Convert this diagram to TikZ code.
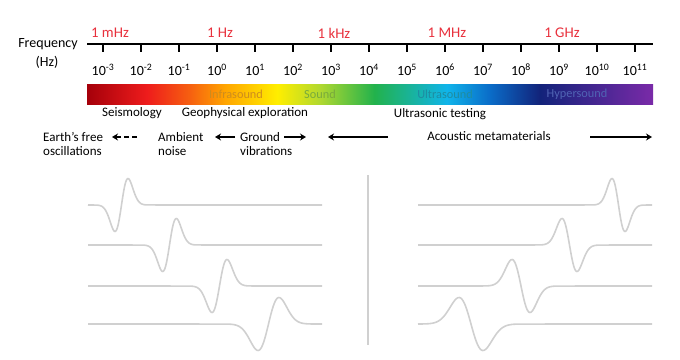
\documentclass[tikz,border=0pt]{standalone}
\usepackage{fontspec}
\setmainfont{Carlito}
\usetikzlibrary{arrows.meta}

% Colours of the spectrum bar
\definecolor{sdarkred}{RGB}{165,0,10}
\definecolor{sred}{RGB}{238,28,28}
\definecolor{sorangered}{RGB}{246,96,16}
\definecolor{sorange}{RGB}{255,165,0}
\definecolor{syellow}{RGB}{255,238,0}
\definecolor{slime}{RGB}{176,216,48}
\definecolor{sgreen}{RGB}{34,178,76}
\definecolor{scyan}{RGB}{16,180,234}
\definecolor{sblue}{RGB}{10,108,200}
\definecolor{snavy}{RGB}{18,35,122}
\definecolor{spurple}{RGB}{122,42,168}
\definecolor{freqred}{RGB}{232,48,60}
\definecolor{wavegray}{RGB}{208,208,208}

\pgfdeclarehorizontalshading{spectrum}{100bp}{%
  color(0bp)=(sdarkred); color(25bp)=(sdarkred); color(30.3bp)=(sred);
  color(34.1bp)=(sorangered); color(37.2bp)=(sorange); color(41.8bp)=(syellow);
  color(45.6bp)=(slime); color(50.4bp)=(sgreen); color(56.8bp)=(scyan);
  color(60.6bp)=(sblue); color(65bp)=(snavy); color(75bp)=(spurple);
  color(100bp)=(spurple)}

\tikzset{
  axistick/.style={line width=2.2pt},
  freqlabel/.style={text=freqred, font=\fontsize{14.8}{16}\selectfont},
  powlabel/.style={font=\fontsize{14}{16}\selectfont},
  bandlabel/.style={font=\fontsize{12.3}{14}\selectfont},
  uselabel/.style={font=\fontsize{13}{14}\selectfont, inner sep=0pt},
  bigarrow/.style={line width=1.6pt, -{Stealth[length=6pt,width=7pt]}},
  wave/.style={wavegray, line width=1.6pt, line join=round},
}

\begin{document}
\begin{tikzpicture}[x=1pt, y=-1pt]
  \useasboundingbox (0,0) rectangle (680,359);

  % Frequency axis
  \node[powlabel] (freq) at (48,44) {Frequency};
  \node[powlabel] (hz) at (47,62) {(Hz)};
  \draw[line width=1.5pt] (87,44) -- (653,44);
  \foreach \i [count=\n from -3] in {0,...,14} {
    \draw[axistick] (103+38*\i,44) -- (103+38*\i,52);
    \node[powlabel] (p\i) at (103+38*\i,70) {10\textsuperscript{\n}};
  }

  % Red frequency marks
  \node[freqlabel] (mhz) at (110,33) {1 mHz};
  \node[freqlabel] (onehz) at (220,33) {1 Hz};
  \node[freqlabel] (khz) at (334,33) {1 kHz};
  \node[freqlabel] (bigmhz) at (447,33) {1 MHz};
  \node[freqlabel] (ghz) at (562,33) {1 GHz};

  % Spectrum bar
  \shade[shading=spectrum] (87,84) rectangle (653,104);
  \node[bandlabel, text={rgb,255:red,205;green,140;blue,30}] (infra) at (236,94) {Infrasound};
  \node[bandlabel, text={rgb,255:red,120;green,170;blue,60}] (sound) at (320,94) {Sound};
  \node[bandlabel, text={rgb,255:red,30;green,140;blue,160}] (ultra) at (445,94) {Ultrasound};
  \node[bandlabel, text={rgb,255:red,80;green,100;blue,180}] (hyper) at (577,94) {Hypersound};

  % Applications
  \node[uselabel] (seis) at (132,113) {Seismology};
  \node[uselabel] (geo) at (245,113) {Geophysical exploration};
  \node[uselabel] (ultest) at (440,114) {Ultrasonic testing};

  \node[uselabel, align=left, anchor=west] (earth) at (43,144) {Earth’s free\\oscillations};
  \node[uselabel, align=left, anchor=west] (ambient) at (158,144) {Ambient\\noise};
  \node[uselabel, align=left, anchor=west] (ground) at (240,144) {Ground\\vibrations};
  \node[uselabel] (meta) at (489,136) {Acoustic metamaterials};

  % Arrow ends
  \coordinate (a1s) at (137,137); \coordinate (a1e) at (112,137);
  \coordinate (a2s) at (235,137); \coordinate (a2e) at (215,137);
  \coordinate (a3s) at (284,137); \coordinate (a3e) at (306,137);
  \coordinate (a4s) at (388,137); \coordinate (a4e) at (328,137);
  \coordinate (a5s) at (590,137); \coordinate (a5e) at (652,137);
  \draw[bigarrow, dash pattern=on 5pt off 3pt] (a1s) -- (a1e);
  \draw[bigarrow] (a2s) -- (a2e);
  \draw[bigarrow] (a3s) -- (a3e);
  \draw[bigarrow] (a4s) -- (a4e);
  \draw[bigarrow] (a5s) -- (a5e);

  % Divider
  \draw[wavegray, line width=1.6pt] (368,175) -- (368,345);

  % Left traces
  \foreach \yb/\c/\s in {205/121.5/6.5, 245/169.5/6.8, 286/219.5/7.5, 324/268.5/10.5} {
    \draw[wave] (88,\yb) -- plot[domain=\c-4*\s:\c+4*\s, samples=80]
      (\x,{\yb-43.7*((\x-\c)/\s)*exp(-0.5*((\x-\c)/\s)^2)}) -- (322,\yb);
  }

  % Right traces
  \foreach \yb/\c/\s in {205/618.5/6.5, 245/569.5/7.5, 286/521/9, 324/471/12} {
    \draw[wave] (418,\yb) -- plot[domain=\c-4*\s:\c+4*\s, samples=80]
      (\x,{\yb+43.7*((\x-\c)/\s)*exp(-0.5*((\x-\c)/\s)^2)}) -- (652,\yb);
  }
\end{tikzpicture}
\end{document}
